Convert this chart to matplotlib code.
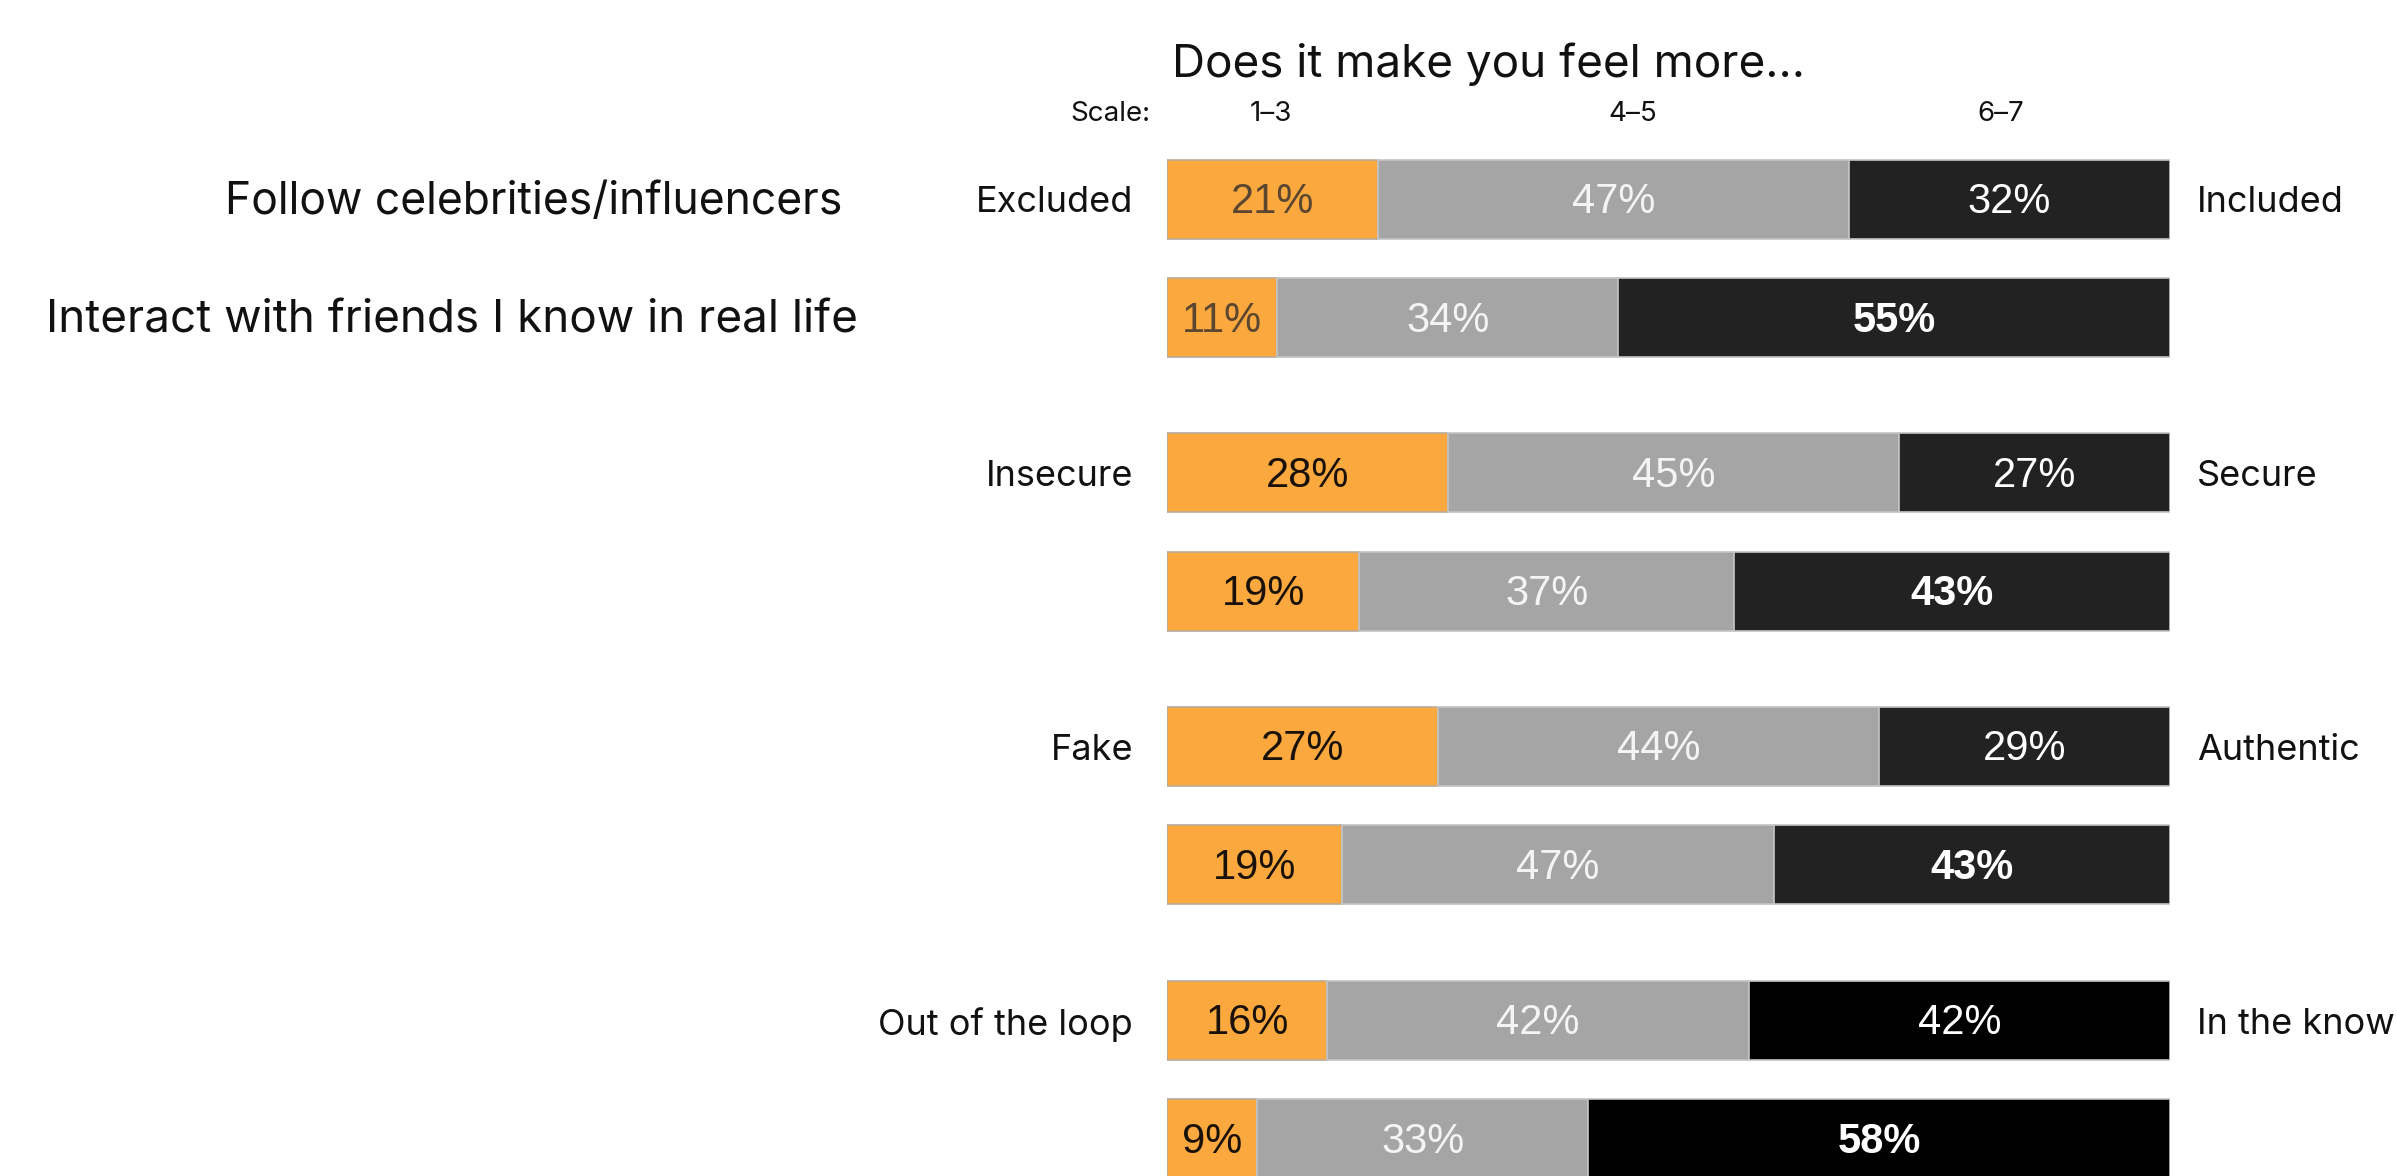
import matplotlib
matplotlib.use("Agg")
import matplotlib.pyplot as plt
import numpy as np

# ---- data ----
title = "Does it make you feel more…"
scale_labels = ["1–3", "4–5", "6–7"]
left_anchors = ["Excluded", "Insecure", "Fake", "Out of the loop"]
right_anchors = ["Included", "Secure", "Authentic", "In the know"]
groups = ["Follow celebrities/influencers", "Interact with friends I know in real life"]

# rows: (celebrities, friends) for each attribute pair
low_vals = [21, 11, 28, 19, 27, 19, 16, 9]     # 1-3
mid_vals = [47, 34, 45, 37, 44, 47, 42, 33]    # 4-5
high_vals = [32, 55, 27, 43, 29, 43, 42, 58]   # 6-7
high_bold = [False, True, False, True, False, True, False, True]

# ---- styling ----
W, H = 2397, 1176
DPI = 100
fig = plt.figure(figsize=(W / DPI, H / DPI), dpi=DPI)
bx0, bx1 = 1167, 2170
ax = fig.add_axes([bx0 / W, 0, (bx1 - bx0) / W, 1])
ax.set_xlim(0, 100)
ax.set_ylim(H, 0)
ax.axis("off")

UI_FONT = ["Inter", "DejaVu Sans"]
NUM_FONT = ["Liberation Sans", "DejaVu Sans"]

c_low = "#FBA93F"
c_mid = "#A5A5A5"
c_high = ["#222222"] * 6 + ["#000000"] * 2
low_txt = ["#5b4630", "#5b4630", "#1a1208", "#1a1208", "#1a1208", "#1a1208", "#1a1208", "#1a1208"]

low = np.array(low_vals, float)
mid = np.array(mid_vals, float)
high = np.array(high_vals, float)
tot = low + mid + high
lw_ = low / tot * 100
mw_ = mid / tot * 100
hw_ = high / tot * 100

n = len(low_vals)
ypos = np.array([199 + (i // 2) * 273.7 + (i % 2) * 118.5 for i in range(n)])
bh = 79

ax.barh(ypos, lw_, height=bh, left=0, color=c_low, edgecolor="#b9ab98", linewidth=1.2)
ax.barh(ypos, mw_, height=bh, left=lw_, color=c_mid, edgecolor="#c4c4c4", linewidth=1.2)
ax.barh(ypos, hw_, height=bh, left=lw_ + mw_, color=c_high, edgecolor="#c4c4c4", linewidth=1.2)

pfs = 30
dy = 3
for i in range(n):
    ax.text(lw_[i] / 2, ypos[i] + dy, f"{low_vals[i]}%", ha="center", va="center",
            fontsize=pfs, family=NUM_FONT, color=low_txt[i])
    ax.text(lw_[i] + mw_[i] / 2, ypos[i] + dy, f"{mid_vals[i]}%", ha="center", va="center",
            fontsize=pfs, family=NUM_FONT, color="#f4f4f4")
    ax.text(lw_[i] + mw_[i] + hw_[i] / 2, ypos[i] + dy, f"{high_vals[i]}%", ha="center",
            va="center", fontsize=pfs, family=NUM_FONT, color="white",
            fontweight="bold" if high_bold[i] else "normal")

def px2x(px):
    return (px - bx0) / (bx1 - bx0) * 100

# anchors
for g in range(len(left_anchors)):
    y = ypos[2 * g] + 4
    ax.text(px2x(1133), y, left_anchors[g], ha="right", va="center", fontsize=26,
            family=UI_FONT, color="#111111", clip_on=False)
    ax.text(px2x(2197), y, right_anchors[g], ha="left", va="center", fontsize=26,
            family=UI_FONT, color="#111111", clip_on=False)

# group labels
ax.text(px2x(842), ypos[0] + 3, groups[0], ha="right", va="center", fontsize=32,
        family=UI_FONT, color="#111111", clip_on=False)
ax.text(px2x(858), ypos[1] + 3, groups[1], ha="right", va="center", fontsize=33,
        family=UI_FONT, color="#111111", clip_on=False)

# scale header
ax.text(px2x(1150), 114, "Scale:", ha="right", va="center", fontsize=20,
        family=UI_FONT, color="#111111", clip_on=False)
for lbl, px in zip(scale_labels, [1271, 1633, 2001]):
    ax.text(px2x(px), 114, lbl, ha="center", va="center", fontsize=20,
            family=UI_FONT, color="#111111", clip_on=False)

# title
ax.text(px2x(1488), 64, title, ha="center", va="center", fontsize=33,
        family=UI_FONT, color="#111111", clip_on=False)

fig.savefig("out.png", dpi=DPI, facecolor="white")
